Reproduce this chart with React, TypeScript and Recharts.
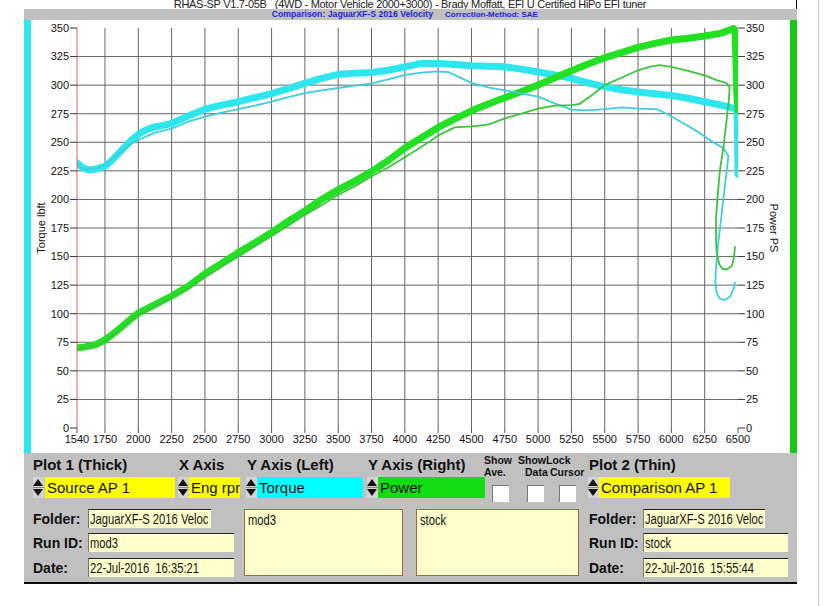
import React from "react";
import { ComposedChart, Line, XAxis, YAxis, CartesianGrid } from "recharts";

// axis ticks
const rpmTicks = [1540, 1750, 2000, 2250, 2500, 2750, 3000, 3250, 3500, 3750, 4000, 4250, 4500, 4750, 5000, 5250, 5500, 5750, 6000, 6250, 6500];
const valueTicks = [0, 25, 50, 75, 100, 125, 150, 175, 200, 225, 250, 275, 300, 325, 350];
const gridRpm = rpmTicks.slice(1, -1);
const gridValues = valueTicks.slice(1, -1);

// Plot 1 (thick) - mod3 torque, lbft
const mod3TorqueRpm = [1540, 1580, 1620, 1680, 1750, 1800, 1875, 1950, 2000, 2060, 2125, 2200, 2250, 2375, 2500, 2625, 2750, 2875, 3000, 3125, 3250, 3375, 3500, 3625, 3750, 3875, 4000, 4125, 4250, 4375, 4500, 4625, 4750, 4875, 5000, 5125, 5250, 5375, 5500, 5625, 5750, 5875, 6000, 6125, 6250, 6375, 6480, 6492, 6498, 6500];
const mod3Torque = [232, 228, 226, 226.5, 229, 234, 243, 252, 257, 261, 263.5, 265, 266.5, 273, 279, 282.5, 285.5, 289, 292.5, 297, 301.5, 306, 309.5, 310.5, 311, 313, 316, 319, 319, 318, 317, 316.5, 316, 314, 311.5, 309, 306, 302, 298.5, 296, 294, 292.5, 291, 288.5, 285.5, 282.5, 279.5, 277, 250, 222];

// Plot 1 (thick) - mod3 power, PS
const mod3PowerRpm = [1540, 1600, 1680, 1750, 1850, 1950, 2000, 2125, 2250, 2375, 2500, 2625, 2750, 2875, 3000, 3125, 3250, 3375, 3500, 3625, 3750, 3875, 4000, 4125, 4250, 4375, 4500, 4625, 4750, 4875, 5000, 5125, 5250, 5375, 5500, 5625, 5750, 5875, 6000, 6125, 6250, 6375, 6465, 6478, 6485, 6490, 6500];
const mod3Power = [70, 71, 73, 77, 86, 96, 100.5, 108, 115.5, 124, 135, 144, 153.5, 162, 171, 181, 190, 200, 208.5, 216, 224.5, 234, 245, 254, 263, 270.5, 277.5, 283.5, 289, 294.5, 300, 306.5, 312.5, 318.5, 324, 328.5, 333, 336.5, 339.5, 341, 343, 345.5, 349.5, 348, 320, 295, 278];

// Plot 2 (thin) - stock torque, lbft
const stockTorqueRpm = [1540, 1600, 1680, 1750, 1850, 1950, 2000, 2125, 2250, 2375, 2500, 2625, 2750, 2875, 3000, 3125, 3250, 3375, 3500, 3625, 3750, 3875, 4000, 4125, 4250, 4325, 4400, 4500, 4625, 4750, 4875, 5000, 5125, 5250, 5375, 5500, 5625, 5750, 5890, 5965, 6100, 6215, 6300, 6390, 6428, 6415, 6395, 6370, 6350, 6335, 6330, 6340, 6365, 6400, 6440, 6465, 6478];
const stockTorque = [230, 226.5, 227, 230, 240, 249, 252, 258.5, 262, 268, 272.5, 276, 279, 282, 285.5, 289.5, 293, 295.5, 297.5, 299.5, 301.5, 305, 309, 311, 312, 311.5, 307.5, 302, 298, 295.5, 292.5, 290, 284, 278.5, 278, 279, 280.5, 279.5, 279, 275, 266, 258, 251, 245, 238, 225, 205, 180, 160, 140, 128, 118, 113, 112, 115, 121, 128];

// Plot 2 (thin) - stock power, PS
const stockPowerRpm = [1540, 1600, 1700, 1750, 1850, 1950, 2000, 2125, 2250, 2375, 2500, 2625, 2750, 2875, 3000, 3125, 3250, 3375, 3500, 3625, 3750, 3875, 4000, 4125, 4190, 4250, 4375, 4500, 4625, 4750, 4875, 5000, 5125, 5250, 5310, 5400, 5500, 5625, 5750, 5850, 5912, 6000, 6125, 6250, 6350, 6412, 6437, 6432, 6415, 6390, 6365, 6345, 6335, 6335, 6340, 6360, 6385, 6420, 6455, 6470, 6478];
const stockPower = [69, 70, 73.5, 76, 85, 95, 99, 107, 114, 122, 132, 141, 150, 159, 168, 177, 186.5, 195, 204, 211.5, 220, 228, 237, 246, 251, 256, 263, 264, 265.5, 271, 275, 279.5, 282, 282.5, 283.5, 291, 300, 306.5, 313, 316.5, 317.5, 316, 312.5, 308.5, 304, 302, 298, 288, 270, 245, 226, 200, 182, 165, 153, 143, 139, 139, 142, 150, 159];

const toPoints = (rpm: number[], v: number[]) => rpm.map((r, i) => ({ rpm: r, v: v[i] }));

const FONT = '"Liberation Sans", Arial, sans-serif';

const abs = (left: number, top: number, width?: number, height?: number): React.CSSProperties => ({
  position: "absolute",
  left,
  top,
  width,
  height,
});

// the original uses a condensed face; squeeze the regular one
const Narrow = ({ children }: { children: React.ReactNode }) => (
  <span style={{ display: "inline-block", transform: "scaleX(0.8)", transformOrigin: "0 50%", whiteSpace: "pre" }}>{children}</span>
);

const Spinner = ({ x, y }: { x: number; y: number }) => (
  <div style={{ ...abs(x, y, 11, 21), background: "#d4d4d4" }}>
    <div style={{ ...abs(0, 2, 0, 0), borderLeft: "5.5px solid transparent", borderRight: "5.5px solid transparent", borderBottom: "7px solid #111" }} />
    <div style={{ ...abs(0, 10, 11, 1), background: "#888" }} />
    <div style={{ ...abs(0, 12, 0, 0), borderLeft: "5.5px solid transparent", borderRight: "5.5px solid transparent", borderTop: "7px solid #111" }} />
  </div>
);

const SelBox = ({ x, w, color, text }: { x: number; w: number; color: string; text: string }) => (
  <div style={{ ...abs(x, 477, w, 21), background: color, fontSize: 15, lineHeight: "21px", paddingLeft: 2, boxSizing: "border-box", whiteSpace: "nowrap", overflow: "hidden" }}>
    {text}
  </div>
);

const Check = ({ x }: { x: number }) => (
  <div style={{ ...abs(x, 485, 17, 17), background: "#fff", borderTop: "1px solid #777", borderLeft: "1px solid #777", boxSizing: "border-box" }} />
);

const InfoBox = ({ x, y, w, h, text }: { x: number; y: number; w: number; h: number; text: string }) => (
  <div style={{ ...abs(x, y, w, h), background: "#ffffcc", borderTop: "1px solid #222", borderLeft: "1px solid #777", boxSizing: "border-box", fontSize: 14, lineHeight: `${h - 1}px`, paddingLeft: 1, whiteSpace: "nowrap", overflow: "hidden" }}>
    <Narrow>{text}</Narrow>
  </div>
);

const RowLabel = ({ x, y, h, text }: { x: number; y: number; h: number; text: string }) => (
  <div style={{ ...abs(x, y, 60, h), fontWeight: "bold", fontSize: 14, lineHeight: `${h + 1}px` }}>{text}</div>
);

const Head = ({ x, text }: { x: number; text: string }) => (
  <div style={{ ...abs(x, 457, undefined, 16), fontWeight: "bold", fontSize: 15, lineHeight: "16px", whiteSpace: "nowrap" }}>{text}</div>
);

const Small = ({ x, y, text }: { x: number; y: number; text: string }) => (
  <div style={{ ...abs(x, y, undefined, 11), fontWeight: "bold", fontSize: 10.5, lineHeight: "11px", whiteSpace: "nowrap" }}>{text}</div>
);

const Memo = ({ x, w, text }: { x: number; w: number; text: string }) => (
  <div style={{ ...abs(x, 509, w, 67), background: "#ffffcc", border: "1px solid #b8603c", boxSizing: "border-box", fontSize: 14, lineHeight: "16px", padding: "2px 3px" }}>
    <Narrow>{text}</Narrow>
  </div>
);

export default function App() {
  const tickStyle = { fontSize: 11, fill: "#111", fontFamily: FONT };
  return (
    <div style={{ position: "absolute", left: 0, top: 0, width: 823, height: 606, background: "#fff", fontFamily: FONT, color: "#111", overflow: "hidden" }}>
      {/* header */}
      <div style={{ ...abs(0, -1, 820, 10), textAlign: "center", fontSize: 11, letterSpacing: -0.3, lineHeight: "10px", whiteSpace: "pre", color: "#222", overflow: "hidden" }}>
        {"RHAS-SP V1.7-05B   (4WD - Motor Vehicle 2000+3000) - Brady Moffatt, EFI U Certified HiPo EFI tuner"}
      </div>
      <div style={{ ...abs(796, 0, 1, 9), background: "#111" }} />
      <div style={{ ...abs(24, 9, 773, 11), background: "#c0c0c0" }} />
      <div style={{ ...abs(233, 10, 200, 9), textAlign: "right", color: "#2424d0", fontWeight: "bold", fontSize: 8.7, lineHeight: "9px", whiteSpace: "nowrap" }}>
        Comparison: JaguarXF-S 2016 Velocity
      </div>
      <div style={{ ...abs(445, 10, undefined, 9), color: "#2424d0", fontWeight: "bold", fontSize: 8, lineHeight: "9px", whiteSpace: "nowrap" }}>
        Correction-Method: SAE
      </div>
      <div style={{ ...abs(818, 0, 1, 606), background: "#c8c8c8" }} />

      {/* side colour bars */}
      <div style={{ ...abs(24, 20, 7, 433), background: "#2ee6ee" }} />
      <div style={{ ...abs(790, 20, 7, 433), background: "#14c814" }} />

      {/* axis titles */}
      <div style={{ ...abs(41, 228), transform: "translate(-50%, -50%) rotate(-90deg)", fontSize: 11, whiteSpace: "nowrap" }}>Torque lbft</div>
      <div style={{ ...abs(774, 228), transform: "translate(-50%, -50%) rotate(90deg)", fontSize: 11, whiteSpace: "nowrap" }}>Power PS</div>

      <div style={abs(0, 0, 823, 453)}>
        <ComposedChart width={823} height={453} margin={{ top: 28, right: 35, bottom: 0, left: 27 }}>
          <CartesianGrid
            yAxisId="left"
            stroke="#666"
            strokeWidth={1}
            horizontalValues={gridValues}
            verticalValues={gridRpm}
          />
          <XAxis
            dataKey="rpm"
            type="number"
            domain={[1540, 6500]}
            ticks={rpmTicks}
            allowDataOverflow
            interval={0}
            height={25}
            axisLine={false}
            tickLine={{ stroke: "#555" }}
            tickSize={5}
            tickMargin={2}
            tick={tickStyle}
          />
          <YAxis
            yAxisId="left"
            type="number"
            domain={[0, 350]}
            ticks={valueTicks}
            interval={0}
            width={50}
            axisLine={{ stroke: "#e06060" }}
            tickLine={{ stroke: "#333" }}
            tickSize={7}
            tickMargin={1}
            tick={tickStyle}
          />
          <YAxis
            yAxisId="right"
            orientation="right"
            type="number"
            domain={[0, 350]}
            ticks={valueTicks}
            interval={0}
            width={50}
            axisLine={false}
            tickLine={{ stroke: "#333" }}
            tickSize={7}
            tickMargin={1}
            tick={tickStyle}
          />
          <Line
            yAxisId="left"
            data={toPoints(mod3TorqueRpm, mod3Torque)}
            dataKey="v"
            type="linear"
            stroke="#2ee6ee"
            strokeWidth={7}
            strokeLinejoin="round"
            strokeLinecap="round"
            dot={false}
            isAnimationActive={false}
          />
          <Line
            yAxisId="right"
            data={toPoints(mod3PowerRpm, mod3Power)}
            dataKey="v"
            type="linear"
            stroke="#22e022"
            strokeWidth={7}
            strokeLinejoin="round"
            strokeLinecap="round"
            dot={false}
            isAnimationActive={false}
          />
          <Line
            yAxisId="left"
            data={toPoints(stockTorqueRpm, stockTorque)}
            dataKey="v"
            type="linear"
            stroke="#3ccfe0"
            strokeWidth={1.8}
            strokeLinejoin="round"
            dot={false}
            isAnimationActive={false}
          />
          <Line
            yAxisId="right"
            data={toPoints(stockPowerRpm, stockPower)}
            dataKey="v"
            type="linear"
            stroke="#3cc43c"
            strokeWidth={1.8}
            strokeLinejoin="round"
            dot={false}
            isAnimationActive={false}
          />
        </ComposedChart>
      </div>

      {/* control panel */}
      <div style={{ ...abs(24, 453, 773, 130), background: "#c0c0c0" }} />
      <div style={{ ...abs(24, 582, 773, 2), background: "#111" }} />

      <Head x={33} text="Plot 1 (Thick)" />
      <Head x={179} text="X Axis" />
      <Head x={247} text="Y Axis (Left)" />
      <Head x={368} text="Y Axis (Right)" />
      <Head x={589} text="Plot 2 (Thin)" />
      <Small x={484} y={455} text="Show" />
      <Small x={484} y={467} text="Ave." />
      <Small x={518} y={455} text="ShowLock" />
      <Small x={525} y={467} text="Data" />
      <Small x={550} y={467} text="Cursor" />

      <Spinner x={33} y={477} />
      <SelBox x={45} w={130} color="#ffff00" text="Source AP 1" />
      <Spinner x={178} y={477} />
      <SelBox x={189} w={51} color="#ffff00" text="Eng rpr" />
      <Spinner x={246} y={477} />
      <SelBox x={257} w={106} color="#00ffff" text="Torque" />
      <Spinner x={367} y={477} />
      <SelBox x={378} w={107} color="#11dd11" text="Power" />
      <Check x={492} />
      <Check x={527} />
      <Check x={559} />
      <Spinner x={588} y={477} />
      <SelBox x={599} w={131} color="#ffff00" text="Comparison AP 1" />

      <RowLabel x={33} y={509} h={19} text="Folder:" />
      <RowLabel x={33} y={533} h={19} text="Run ID:" />
      <RowLabel x={33} y={558} h={19} text="Date:" />
      <InfoBox x={88} y={509} w={123} h={19} text="JaguarXF-S 2016 Veloc" />
      <InfoBox x={88} y={533} w={146} h={19} text="mod3" />
      <InfoBox x={88} y={558} w={146} h={19} text="22-Jul-2016  16:35:21" />

      <Memo x={244} w={159} text="mod3" />
      <Memo x={416} w={163} text="stock" />

      <RowLabel x={589} y={509} h={19} text="Folder:" />
      <RowLabel x={589} y={533} h={19} text="Run ID:" />
      <RowLabel x={589} y={558} h={19} text="Date:" />
      <InfoBox x={643} y={509} w={122} h={19} text="JaguarXF-S 2016 Veloc" />
      <InfoBox x={643} y={533} w={145} h={19} text="stock" />
      <InfoBox x={643} y={558} w={145} h={19} text="22-Jul-2016  15:55:44" />
    </div>
  );
}
